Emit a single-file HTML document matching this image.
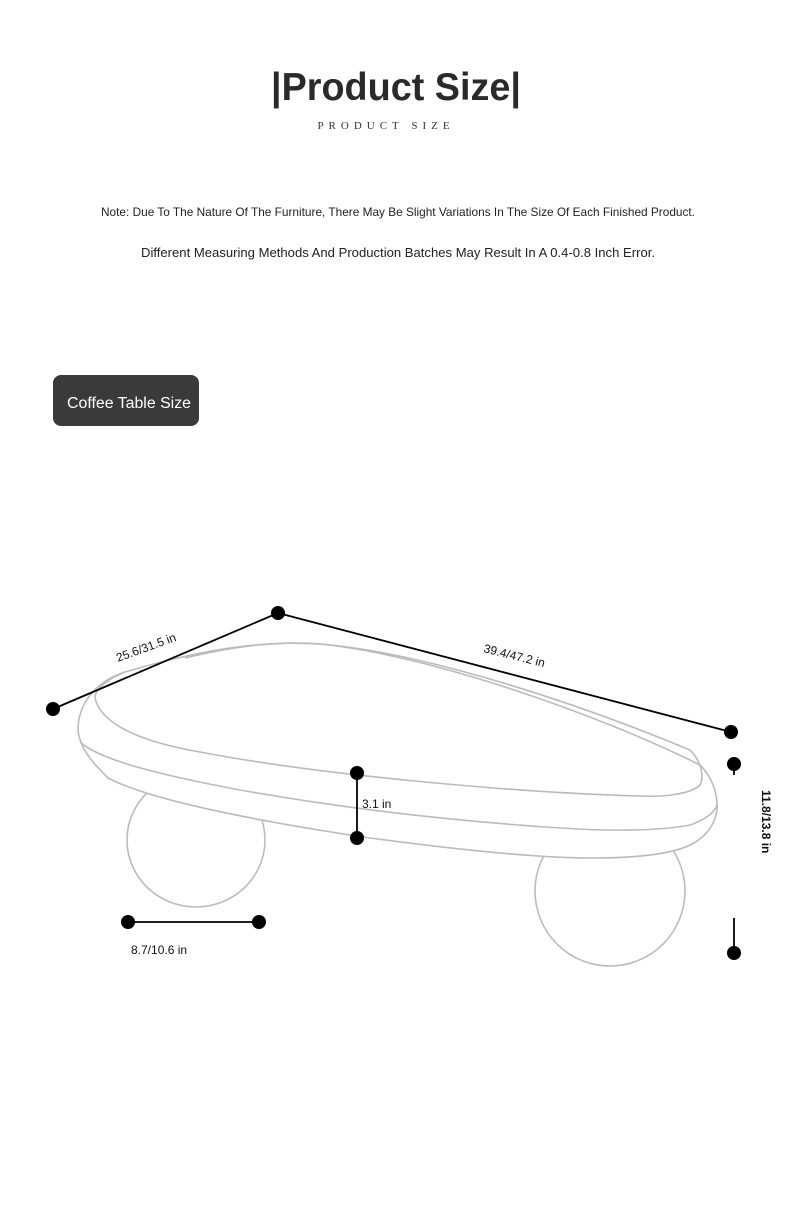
<!DOCTYPE html>
<html><head><meta charset="utf-8"><style>
html,body{margin:0;padding:0;background:#fff;}
body{width:790px;height:1205px;position:relative;overflow:hidden;}
svg{position:absolute;left:0;top:0;}
</style></head><body>
<svg width="790" height="1205" viewBox="0 0 790 1205" xmlns="http://www.w3.org/2000/svg">
<text x="396" y="100" text-anchor="middle" font-family="Liberation Sans, sans-serif" font-size="39" font-weight="bold" fill="#2a2a2a" textLength="250" lengthAdjust="spacingAndGlyphs">|Product Size|</text>
<text x="386" y="129" text-anchor="middle" font-family="Liberation Serif, serif" font-size="11" fill="#333" letter-spacing="5">PRODUCT SIZE</text>
<text x="398" y="216" text-anchor="middle" font-family="Liberation Sans, sans-serif" font-size="12" fill="#222" textLength="594" lengthAdjust="spacingAndGlyphs">Note: Due To The Nature Of The Furniture, There May Be Slight Variations In The Size Of Each Finished Product.</text>
<text x="398" y="257" text-anchor="middle" font-family="Liberation Sans, sans-serif" font-size="12.5" fill="#222" textLength="514" lengthAdjust="spacingAndGlyphs">Different Measuring Methods And Production Batches May Result In A 0.4-0.8 Inch Error.</text>
<rect x="53" y="375" width="146" height="51" rx="8" fill="#3a3a3a"/>
<text x="129" y="408" text-anchor="middle" font-family="Liberation Sans, sans-serif" font-size="15.5" fill="#fff" textLength="124" lengthAdjust="spacingAndGlyphs">Coffee Table Size</text>
<g fill="#fff" stroke="#bbb" stroke-width="1.6">
<!-- legs -->
<ellipse cx="196" cy="840" rx="69" ry="67"/>
<ellipse cx="610" cy="891" rx="75" ry="75"/>
<!-- table body -->
<path d="M125,672 C100,680 78,700 78,730 C80,750 95,765 108,778 C150,800 250,820 370,838 C460,850 540,858 590,858 C630,858 670,855 690,845 C705,838 715,825 717,810 C718,790 710,775 700,765 C600,715 430,655 320,644 C260,640 200,650 125,672 Z"/>
</g>
<g fill="none" stroke="#bbb" stroke-width="1.6">
<path d="M185,658 C240,645 280,641 320,644 C420,652 570,700 690,750 C700,760 705,775 700,785 C690,795 660,797 640,796 C520,793 320,775 200,752 C130,740 100,720 95,698 C95,688 110,678 125,672"/>
<path d="M80,742 C100,760 160,775 240,790 C330,806 440,820 560,828 C620,832 665,830 690,825 C705,820 715,812 717,805"/>
</g>
<g stroke="#000" stroke-width="1.8" fill="none">
<line x1="53" y1="709" x2="278" y2="613"/>
<line x1="278" y1="613" x2="731" y2="732"/>
<line x1="357" y1="773" x2="357" y2="838"/>
<line x1="128" y1="922" x2="259" y2="922"/>
<line x1="734" y1="764" x2="734" y2="775"/>
<line x1="734" y1="918" x2="734" y2="953"/>
</g>
<g fill="#000">
<circle cx="53" cy="709" r="7"/><circle cx="278" cy="613" r="7"/><circle cx="731" cy="732" r="7"/>
<circle cx="734" cy="764" r="7"/><circle cx="734" cy="953" r="7"/>
<circle cx="357" cy="773" r="7"/><circle cx="357" cy="838" r="7"/>
<circle cx="128" cy="922" r="7"/><circle cx="259" cy="922" r="7"/>
</g>
<g font-family="Liberation Sans, sans-serif" font-size="12" fill="#111">
<text x="0" y="0" transform="translate(118,662) rotate(-20)">25.6/31.5 in</text>
<text x="0" y="0" transform="translate(483,652) rotate(14)">39.4/47.2 in</text>
<text x="362" y="808">3.1 in</text>
<text x="131" y="954">8.7/10.6 in</text>
<text x="0" y="0" font-family="Liberation Sans, sans-serif" font-weight="bold" transform="translate(762,790) rotate(90)">11.8/13.8 in</text>
</g>
</svg>
</body></html>
